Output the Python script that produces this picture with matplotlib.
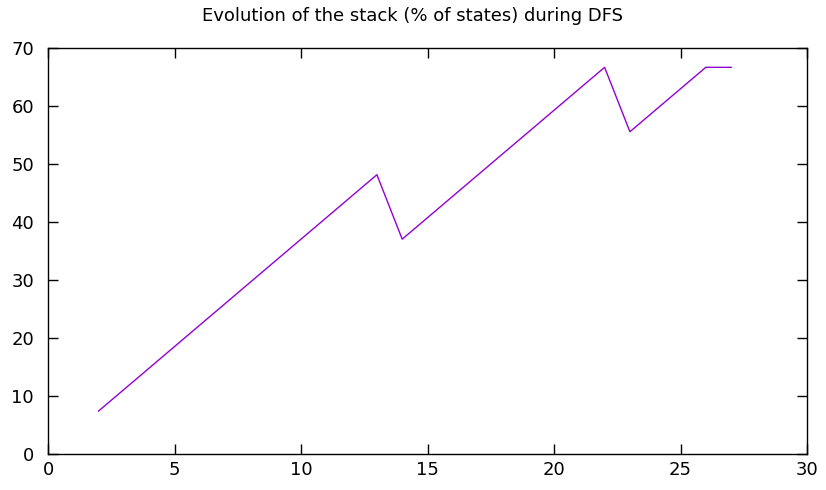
import numpy as np
import matplotlib
matplotlib.use("Agg")
import matplotlib.pyplot as plt

plt.rcParams["font.family"] = ["DejaVu Sans"]

# stack size as % of the 27 states, at each DFS step (vertices of the curve)
steps = [2, 13, 14, 22, 23, 26, 27]
stack_pct = [7.41, 48.15, 37.04, 66.67, 55.56, 66.67, 66.67]

x_ticks = [0, 5, 10, 15, 20, 25, 30]
y_ticks = [0, 10, 20, 30, 40, 50, 60, 70]

fig = plt.figure(figsize=(8.26, 4.90), dpi=100)
ax = fig.add_axes([48 / 826, 1 - 454 / 490, (807 - 48) / 826, (454 - 48) / 490])

ax.plot(steps, stack_pct, color="#9400d3", linewidth=1.0)

ax.set_xlim(0, 30)
ax.set_ylim(0, 70)
ax.set_xticks(x_ticks)
ax.set_yticks(y_ticks)
ax.tick_params(direction="in", length=7, width=1, top=True, right=True,
               labelsize=13)
ax.tick_params(axis="y", pad=10)
ax.tick_params(axis="x", pad=5)
for s in ax.spines.values():
    s.set_linewidth(1.0)

fig.text(0.5, 1 - 16 / 490, "Evolution of the stack (% of states) during DFS",
         ha="center", va="center", fontsize=13)

fig.savefig("out.png", dpi=100)
